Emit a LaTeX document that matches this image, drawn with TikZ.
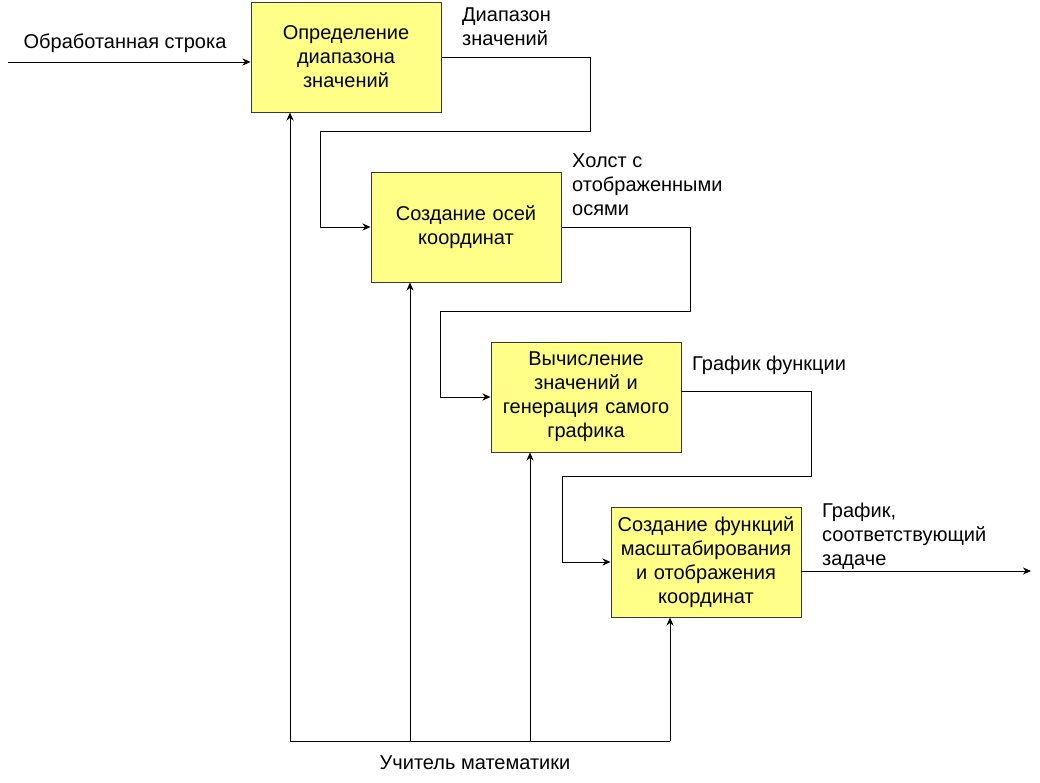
\documentclass[tikz,border=0pt]{standalone}
\usepackage{fontspec}
\setmainfont{Liberation Sans}
\usetikzlibrary{arrows.meta,calc}
\definecolor{boxfill}{HTML}{FFFF88}
\definecolor{boxline}{HTML}{36393D}
\begin{document}
\begin{tikzpicture}[x=1pt,y=-1pt,
  every node/.style={font=\fontsize{20}{24}\selectfont},
  proc/.style={draw=boxline,fill=boxfill,line width=1pt,minimum width=190pt,minimum height=110pt,inner sep=1pt,align=center,text width=188pt},
  lbl/.style={align=left,anchor=west,inner sep=0pt},
  arr/.style={line width=0.9pt,-{Stealth[length=8pt,width=7pt,inset=2.5pt]}},
  ln/.style={line width=0.9pt}]
\useasboundingbox (0,0) rectangle (1040,782);
\node[proc] (b1) at (346,57) {Определение\\диапазона\\значений};
\node[proc] (b2) at (466,227) {Создание осей\\координат};
\node[proc] (b3) at (586,397) {Вычисление\\значений и\\генерация самого\\графика};
\node[proc] (b4) at (706,562) {Создание функций\\масштабирования\\и отображения\\координат};
% input
\coordinate (in) at (8,62);
\draw[arr] (in) -- (in -| b1.west);
\node (lin) at (125,43) {Обработанная строка};
% connector 1
\coordinate (c1a) at (590,131);
\coordinate (c1b) at (320,131);
\draw[arr] (b1.east) -| (c1a) -- (c1b) |- (b2.west);
\node[lbl] (l1) at (462,27) {Диапазон\\значений};
% connector 2
\coordinate (c2a) at (690,311);
\coordinate (c2b) at (440,311);
\draw[arr] (b2.east) -| (c2a) -- (c2b) |- (b3.west);
\node[lbl] (l2) at (572,185) {Холст с\\отображенными\\осями};
% connector 3
\coordinate (o3) at (681,391);
\coordinate (c3a) at (811,476);
\coordinate (c3b) at (562,476);
\draw[arr] (o3) -| (c3a) -- (c3b) |- (b4.west);
\node[lbl] (l3) at (692,365) {График функции};
% output
\coordinate (o4) at (801,571);
\coordinate (out) at (1031,571);
\draw[arr] (o4) -- (out);
\node[lbl] (l4) at (822,536) {График,\\соответствующий\\задаче};
% mechanism
\coordinate (m1) at (290,741);
\coordinate (m2) at (410,741);
\coordinate (m3) at (530,741);
\coordinate (m4) at (670,741);
\draw[ln] (m1) -- (m4);
\draw[arr] (m1) -- (m1 |- b1.south);
\draw[arr] (m2) -- (m2 |- b2.south);
\draw[arr] (m3) -- (m3 |- b3.south);
\draw[arr] (m4) -- (m4 |- b4.south);
\node (lm) at (475,763) {Учитель математики};
\end{tikzpicture}
\end{document}
